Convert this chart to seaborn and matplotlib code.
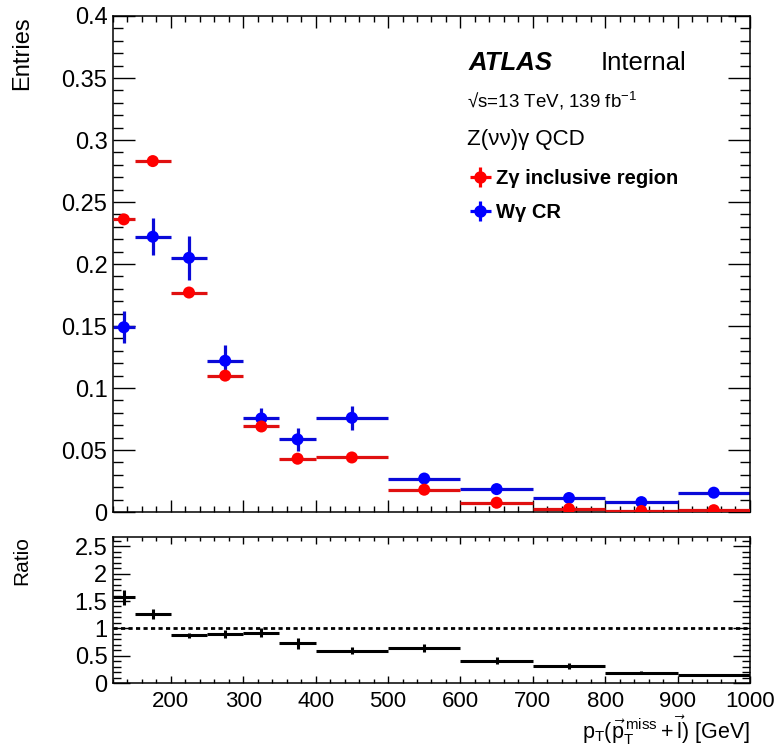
import numpy as np
import pandas as pd
import matplotlib
matplotlib.use("Agg")
import matplotlib.pyplot as plt
import seaborn as sns
from matplotlib.ticker import MultipleLocator, FuncFormatter

# bin edges in GeV and the two normalised distributions
bin_edges = [120, 150, 200, 250, 300, 350, 400, 500, 600, 700, 800, 900, 1000]
zg_entries = [0.236, 0.283, 0.177, 0.110, 0.069, 0.043, 0.044, 0.018, 0.0075, 0.0025, 0.0008, 0.0015]
zg_errors = [0.003, 0.003, 0.0025, 0.002, 0.0015, 0.0012, 0.0012, 0.0008, 0.0005, 0.0003, 0.0002, 0.0003]
wg_entries = [0.149, 0.222, 0.205, 0.122, 0.0755, 0.0586, 0.076, 0.027, 0.0185, 0.0113, 0.008, 0.0156]
wg_errors = [0.013, 0.015, 0.0177, 0.0125, 0.008, 0.009, 0.0095, 0.003, 0.0025, 0.002, 0.0015, 0.0015]
ratio_values = [1.57, 1.26, 0.87, 0.90, 0.92, 0.73, 0.59, 0.64, 0.41, 0.31, 0.19, 0.14]
ratio_errors = [0.14, 0.085, 0.05, 0.07, 0.08, 0.10, 0.06, 0.08, 0.06, 0.05, 0.03, 0.02]

edges = np.array(bin_edges, dtype=float)
df = pd.DataFrame({
    "center": (edges[:-1] + edges[1:]) / 2,
    "half": (edges[1:] - edges[:-1]) / 2,
    "zg": zg_entries, "zg_err": zg_errors,
    "wg": wg_entries, "wg_err": wg_errors,
    "ratio": ratio_values, "ratio_err": ratio_errors,
})

sns.set_theme(style="ticks", rc={
    "axes.edgecolor": "black", "xtick.color": "black", "ytick.color": "black",
    "axes.linewidth": 1.1, "text.color": "black",
})
plt.rcParams["font.family"] = ["Liberation Sans", "DejaVu Sans"]
plt.rcParams["mathtext.fontset"] = "custom"
plt.rcParams["mathtext.rm"] = "Liberation Sans"
plt.rcParams["mathtext.it"] = "Liberation Sans:italic"
plt.rcParams["mathtext.bf"] = "Liberation Sans:bold"

fig = plt.figure(figsize=(7.77, 7.51), dpi=100)
ax = fig.add_axes([0.1454, 0.3182, 0.8198, 0.6605])
ax2 = fig.add_axes([0.1454, 0.0905, 0.8198, 0.1944])

blue = "#0000ff"
red = "#ff0000"

# main panel: W gamma first, Z gamma on top
ax.errorbar(df["center"], df["wg"], xerr=df["half"], yerr=df["wg_err"],
            fmt="none", ecolor="#0a0ad8", elinewidth=2.3, capsize=0, zorder=2)
sns.scatterplot(data=df, x="center", y="wg", color=blue, s=75,
                edgecolor="none", ax=ax, zorder=3, legend=False)
ax.errorbar(df["center"], df["zg"], xerr=df["half"], yerr=df["zg_err"],
            fmt="none", ecolor="#e01010", elinewidth=2.3, capsize=0, zorder=4)
sns.scatterplot(data=df, x="center", y="zg", color=red, s=75,
                edgecolor="none", ax=ax, zorder=5, legend=False)

ax.set_xlim(120, 1000)
ax.set_ylim(0, 0.4)
ax.set_xlabel("")
ax.set_ylabel("")
ax.xaxis.set_major_locator(MultipleLocator(100))
ax.xaxis.set_minor_locator(MultipleLocator(20))
ax.yaxis.set_major_locator(MultipleLocator(0.05))
ax.yaxis.set_minor_locator(MultipleLocator(0.01))
ax.yaxis.set_major_formatter(FuncFormatter(lambda v, p: "%g" % round(v, 3)))
ax.tick_params(which="both", direction="in", top=True, right=True,
               labelbottom=False, width=1.0, labelsize=17, pad=4)
ax.tick_params(axis="y", which="major", length=16)
ax.tick_params(axis="y", which="minor", length=7)
ax.tick_params(axis="x", which="major", length=8.5)
ax.tick_params(axis="x", which="minor", length=4.5)

# legend proxies with error crosses
h_z = ax.errorbar([np.nan], [np.nan], xerr=[1], yerr=[1], fmt="o", color=red,
                  ms=8, elinewidth=2.3, capsize=0)
h_w = ax.errorbar([np.nan], [np.nan], xerr=[1], yerr=[1], fmt="o", color=blue,
                  ms=8, elinewidth=2.3, capsize=0)
ax.legend([h_z, h_w], ["Z\u03b3 inclusive region", "W\u03b3 CR"],
          loc="upper left", bbox_to_anchor=(0.55, 0.708), frameon=False,
          prop={"weight": "bold", "size": 14.5}, handlelength=0.9,
          handletextpad=0.3, labelspacing=0.75, borderaxespad=0)

ax.text(0.558, 0.891, "ATLAS", transform=ax.transAxes, fontsize=18.5,
        fontweight="bold", fontstyle="italic", va="baseline")
ax.text(0.765, 0.891, "Internal", transform=ax.transAxes, fontsize=18.5, va="baseline")
ax.text(0.556, 0.8165, "\u221as=13 TeV, 139 fb$^{-1}$", transform=ax.transAxes,
        fontsize=13.5, va="baseline")
ax.text(0.555, 0.740, "Z(\u03bd\u03bd)\u03b3 QCD", transform=ax.transAxes,
        fontsize=16, va="baseline")

# ratio panel
ax2.errorbar(df["center"], df["ratio"], xerr=df["half"], yerr=df["ratio_err"],
             fmt="none", ecolor="black", elinewidth=2.2, capsize=0)
ax2.axhline(1.0, color="black", lw=2.0, ls=(0, (1.5, 1.2)))
ax2.set_xlim(120, 1000)
ax2.set_ylim(0, 2.67)
ax2.xaxis.set_major_locator(MultipleLocator(100))
ax2.xaxis.set_minor_locator(MultipleLocator(20))
ax2.yaxis.set_major_locator(MultipleLocator(0.5))
ax2.yaxis.set_minor_locator(MultipleLocator(0.1))
ax2.yaxis.set_major_formatter(FuncFormatter(lambda v, p: "%g" % round(v, 2)))
ax2.tick_params(which="both", direction="in", top=True, right=True, width=1.0)
ax2.tick_params(axis="y", which="major", length=12, pad=4, labelsize=17)
ax2.tick_params(axis="y", which="minor", length=6)
ax2.tick_params(axis="x", which="major", length=5, pad=6, labelsize=16)
ax2.tick_params(axis="x", which="minor", length=3)

fig.text(22 / 777, 1 - 16 / 751, "Entries", rotation=90, ha="center", va="top", fontsize=17)
fig.text(22 / 777, 1 - 536 / 751, "Ratio", rotation=90, ha="center", va="top", fontsize=15)
fig.text(750 / 777, 12 / 751, r"$\mathrm{p_{T}(\vec{p}_{T}^{\,miss}+\vec{l})}$ [GeV]",
         ha="right", va="baseline", fontsize=15.5)

fig.savefig("out.png", dpi=100)
